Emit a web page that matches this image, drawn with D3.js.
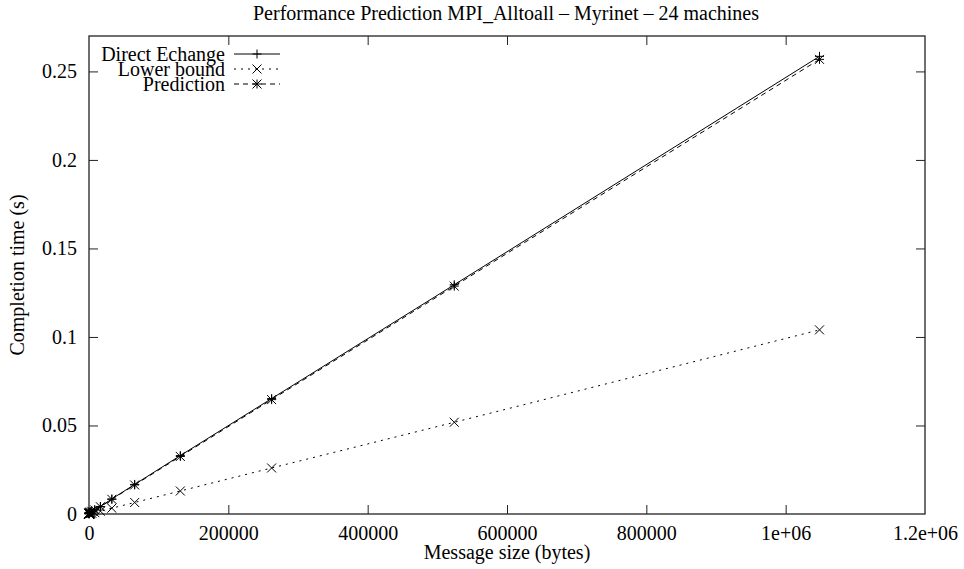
<!DOCTYPE html>
<html>
<head>
<meta charset="utf-8">
<script src="https://cdn.jsdelivr.net/npm/d3@7"></script>
<style>
  body { margin: 0; background: #fff; }
  svg text { font-family: "Liberation Serif", Tinos, "Times New Roman", "Nimbus Roman", "DejaVu Serif", serif; fill: #000; }
</style>
</head>
<body>
<div id="chart"></div>
<script>
// message sizes (bytes)
const sizes = [1, 2, 4, 8, 16, 32, 64, 128, 256, 512, 1024, 2048, 4096, 8192,
  16384, 32768, 65536, 131072, 262144, 524288, 1048576];

// completion times (s)
const directValues = [0.00025, 0.00025, 0.00026, 0.00027, 0.0003, 0.00034, 0.0004, 0.00047,
  0.0006, 0.0008, 0.00095, 0.0012, 0.0016, 0.0024, 0.0042, 0.0085, 0.0167, 0.0330,
  0.0652, 0.1295, 0.2585];
const lowerValues = [0.00001, 0.00001, 0.00001, 0.00001, 0.00002, 0.00003, 0.00004, 0.00005,
  0.00007, 0.0001, 0.00015, 0.00022, 0.0004, 0.0008, 0.0016, 0.0033, 0.0065, 0.013,
  0.026, 0.0518, 0.104];
const predValues = [0.0002, 0.0002, 0.00021, 0.00022, 0.00025, 0.00029, 0.00035, 0.00042,
  0.00055, 0.00074, 0.0009, 0.00115, 0.0015, 0.0023, 0.0041, 0.0083, 0.0164, 0.0325,
  0.0646, 0.1287, 0.2568];

const xTicks = [0, 200000, 400000, 600000, 800000, 1000000, 1200000];
const xTickLabels = ["0", "200000", "400000", "600000", "800000", "1e+06", "1.2e+06"];
const yTicks = [0, 0.05, 0.1, 0.15, 0.2, 0.25];
const yTickLabels = ["0", "0.05", "0.1", "0.15", "0.2", "0.25"];

const seriesNames = ["Direct Echange", "Lower bound", "Prediction"];

const width = 964, height = 569;
const margin = { left: 89, right: 39, top: 36, bottom: 55 };
const fontSize = "20px";
const serif = "'Liberation Serif', Tinos, 'Times New Roman', 'Nimbus Roman', 'DejaVu Serif', serif";

const svg = d3.select("#chart")
  .append("svg")
  .attr("width", width)
  .attr("height", height);

const x = d3.scaleLinear().domain([0, 1200000]).range([margin.left, width - margin.right]);
const y = d3.scaleLinear().domain([0, 0.27]).range([height - margin.bottom, margin.top]);

const tickLen = 9;
const frameColor = "#222";

// inward ticks on all four sides (gnuplot style)
const axBottom = svg.append("g")
  .attr("transform", `translate(0,${y(0)})`)
  .call(d3.axisBottom(x).tickValues(xTicks).tickSize(-tickLen).tickPadding(12)
    .tickFormat((d, i) => xTickLabels[i]));
const axTop = svg.append("g")
  .attr("transform", `translate(0,${margin.top})`)
  .call(d3.axisTop(x).tickValues(xTicks).tickSize(-tickLen).tickFormat(""));
const axLeft = svg.append("g")
  .attr("transform", `translate(${margin.left},0)`)
  .call(d3.axisLeft(y).tickValues(yTicks).tickSize(-tickLen).tickPadding(12)
    .tickFormat((d, i) => yTickLabels[i]));
const axRight = svg.append("g")
  .attr("transform", `translate(${width - margin.right},0)`)
  .call(d3.axisRight(y).tickValues(yTicks).tickSize(-tickLen).tickFormat(""));

[axBottom, axTop, axLeft, axRight].forEach((g) => {
  g.attr("font-family", serif).attr("font-size", fontSize);
  g.select(".domain").remove();
  g.selectAll(".tick line").attr("stroke", frameColor).attr("stroke-width", 1);
  g.selectAll(".tick text").attr("fill", "#000");
});
// corner ticks would sit over the frame
axTop.selectAll(".tick").filter((d) => d === 0 || d === 1200000).select("line").remove();
axBottom.selectAll(".tick").filter((d) => d === 0 || d === 1200000).select("line").remove();
axLeft.selectAll(".tick").filter((d) => d === 0).select("line").remove();
axRight.selectAll(".tick").filter((d) => d === 0).select("line").remove();

// frame
svg.append("rect")
  .attr("x", x(0))
  .attr("y", margin.top)
  .attr("width", x(1200000) - x(0))
  .attr("height", y(0) - margin.top)
  .attr("fill", "none")
  .attr("stroke", frameColor)
  .attr("stroke-width", 1.3);

// titles
svg.append("text")
  .attr("x", 506).attr("y", 20)
  .attr("text-anchor", "middle")
  .attr("font-family", serif)
  .attr("font-size", fontSize)
  .text("Performance Prediction MPI_Alltoall \u2013 Myrinet \u2013 24 machines");

svg.append("text")
  .attr("x", (x(0) + x(1200000)) / 2).attr("y", 559)
  .attr("text-anchor", "middle")
  .attr("font-family", serif)
  .attr("font-size", fontSize)
  .text("Message size (bytes)");

svg.append("text")
  .attr("transform", `translate(24,${(y(0) + margin.top) / 2}) rotate(-90)`)
  .attr("text-anchor", "middle")
  .attr("font-family", serif)
  .attr("font-size", fontSize)
  .text("Completion time (s)");

// series
const series = [
  { name: seriesNames[0], values: directValues, dash: null, marker: "plus" },
  { name: seriesNames[1], values: lowerValues, dash: "2,5", marker: "cross" },
  { name: seriesNames[2], values: predValues, dash: "5,4", marker: "star" }
];

const line = d3.line()
  .x((d) => x(d[0]))
  .y((d) => y(d[1]));

const ms = 4.5; // marker half size
function drawMarker(g, type, cx, cy) {
  let p = "";
  if (type === "plus" || type === "star") {
    p += `M${cx - ms},${cy}L${cx + ms},${cy}M${cx},${cy - ms}L${cx},${cy + ms}`;
  }
  if (type === "cross" || type === "star") {
    p += `M${cx - ms},${cy - ms}L${cx + ms},${cy + ms}M${cx - ms},${cy + ms}L${cx + ms},${cy - ms}`;
  }
  g.append("path").attr("d", p).attr("stroke", "#000").attr("stroke-width", 1).attr("fill", "none");
}

series.forEach((s) => {
  const pts = sizes.map((v, i) => [v, s.values[i]]);
  const g = svg.append("g");
  g.append("path")
    .datum(pts)
    .attr("d", line)
    .attr("fill", "none")
    .attr("stroke", "#000")
    .attr("stroke-width", 1)
    .attr("stroke-dasharray", s.dash);
  pts.forEach((p) => drawMarker(g, s.marker, x(p[0]), y(p[1])));
});

// legend
const legend = svg.append("g");
series.forEach((s, i) => {
  const ly = 54 + i * 15;
  legend.append("text")
    .attr("x", 225).attr("y", ly)
    .attr("dy", "0.33em")
    .attr("text-anchor", "end")
    .attr("font-family", serif)
    .attr("font-size", fontSize)
    .text(s.name);
  legend.append("line")
    .attr("x1", 234).attr("x2", 280)
    .attr("y1", ly).attr("y2", ly)
    .attr("stroke", "#000")
    .attr("stroke-width", 1)
    .attr("stroke-dasharray", s.dash);
  drawMarker(legend, s.marker, 257, ly);
});
</script>
</body>
</html>
